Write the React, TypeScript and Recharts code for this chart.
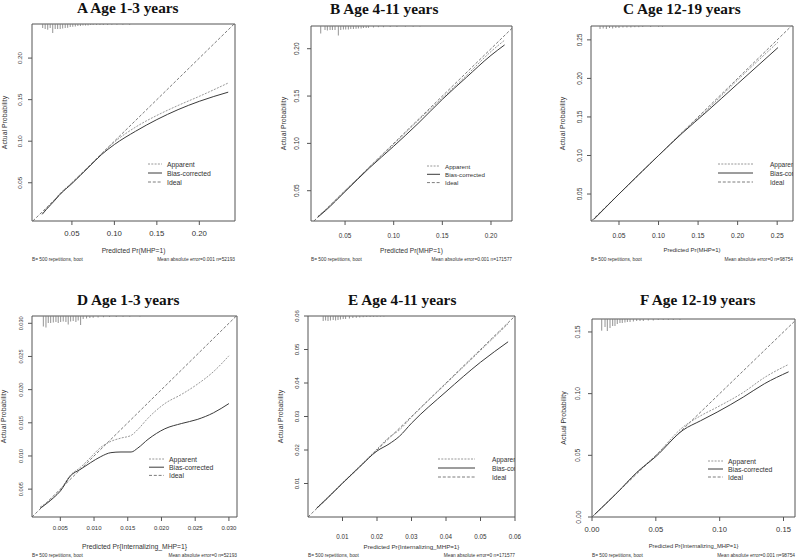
import React from "react";
import {
  ComposedChart,
  Line,
  Scatter,
  XAxis,
  YAxis,
  ReferenceArea,
  ReferenceLine,
} from "recharts";

const aX = [0.015, 0.02, 0.03, 0.035, 0.05, 0.07, 0.085, 0.1, 0.125, 0.15, 0.175, 0.2, 0.234];
const aApparent = [0.013, 0.019, 0.03, 0.036, 0.05, 0.07, 0.085, 0.099, 0.117, 0.131, 0.143, 0.154, 0.17];
const aBias = [0.012, 0.018, 0.029, 0.035, 0.049, 0.069, 0.084, 0.096, 0.112, 0.126, 0.138, 0.148, 0.159];

const bX = [0.022, 0.03, 0.05, 0.075, 0.1, 0.125, 0.15, 0.175, 0.2, 0.214];
const bApparent = [0.023, 0.03, 0.05, 0.075, 0.099, 0.124, 0.148, 0.172, 0.197, 0.209];
const bBias = [0.022, 0.029, 0.049, 0.074, 0.097, 0.121, 0.1465, 0.17, 0.193, 0.204];

const cX = [0.018, 0.05, 0.1, 0.13, 0.16, 0.2, 0.251];
const cApparent = [0.017, 0.05, 0.1, 0.13, 0.158, 0.198, 0.247];
const cBias = [0.017, 0.05, 0.1, 0.129, 0.156, 0.193, 0.24];

const dX = [0.002, 0.004, 0.005, 0.0065, 0.008, 0.0095, 0.011, 0.0125, 0.014, 0.0155, 0.0165, 0.018, 0.0205, 0.023, 0.0253, 0.0277, 0.03];
const dApparent = [0.0023, 0.0038, 0.0049, 0.0071, 0.0083, 0.0098, 0.0113, 0.0122, 0.0127, 0.0131, 0.014, 0.0157, 0.0179, 0.0193, 0.0208, 0.0227, 0.0251];
const dBias = [0.0021, 0.0037, 0.0047, 0.007, 0.008, 0.009, 0.0099, 0.0105, 0.0106, 0.0106, 0.0112, 0.0125, 0.0141, 0.0149, 0.0155, 0.0165, 0.0179];

const eX = [0.0025, 0.005, 0.01, 0.015, 0.02, 0.0235, 0.0265, 0.03, 0.04, 0.05, 0.058];
const eApparent = [0.0027, 0.0052, 0.0102, 0.0152, 0.0203, 0.0238, 0.026, 0.0298, 0.0398, 0.0497, 0.0577];
const eBias = [0.0026, 0.005, 0.0101, 0.015, 0.0197, 0.0218, 0.0241, 0.028, 0.0374, 0.0462, 0.0523];

const fX = [0.002, 0.02, 0.035, 0.05, 0.0714, 0.085, 0.098, 0.1185, 0.135, 0.154];
const fApparent = [0.002, 0.02, 0.036, 0.05, 0.073, 0.082, 0.089, 0.101, 0.113, 0.1237];
const fBias = [0.002, 0.02, 0.036, 0.049, 0.0705, 0.078, 0.085, 0.0972, 0.108, 0.1177];

// rug of predicted values along the top (relative frequency)
const aRugX = [0.0156, 0.0185, 0.0215, 0.0244, 0.0274, 0.0303, 0.0332, 0.0362, 0.0391, 0.0421, 0.045, 0.048, 0.051, 0.054, 0.057, 0.06, 0.063, 0.066, 0.069, 0.072, 0.075, 0.079, 0.083, 0.087, 0.092, 0.097, 0.103, 0.11, 0.118];
const aRugN = [40, 50, 57, 40, 90, 50, 50, 50, 45, 40, 38, 30, 28, 25, 20, 20, 15, 15, 15, 10, 10, 10, 10, 10, 10, 8, 8, 8, 8];

const bRugX = [0.025, 0.0294, 0.0318, 0.0346, 0.037, 0.0397, 0.0431, 0.0456, 0.0483, 0.0507, 0.0534, 0.0559, 0.0586, 0.0613, 0.0637, 0.0665, 0.0689, 0.0717, 0.0741, 0.0792, 0.0843, 0.0895, 0.0964, 0.1033, 0.112, 0.12, 0.127];
const bRugN = [75, 40, 45, 40, 40, 40, 95, 40, 35, 35, 35, 30, 30, 28, 25, 25, 20, 20, 18, 15, 12, 12, 10, 10, 8, 8, 6];

const cRugX = [0.026, 0.03, 0.034, 0.038, 0.042, 0.046, 0.05, 0.055, 0.06, 0.065, 0.07, 0.075, 0.08, 0.09, 0.1, 0.105];
const cRugN = [30, 25, 30, 20, 25, 20, 20, 15, 15, 15, 12, 12, 10, 10, 8, 8];

const dRugX = [0.00248, 0.00287, 0.00321, 0.00357, 0.00396, 0.00435, 0.00469, 0.00505, 0.00543, 0.00583, 0.00617, 0.00653, 0.00691, 0.00731, 0.00765, 0.00801, 0.00839, 0.00889, 0.00938, 0.00987, 0.0106, 0.0114, 0.0123, 0.0133, 0.0143, 0.0153, 0.0168];
const dRugN = [105, 115, 70, 70, 65, 60, 70, 60, 55, 60, 85, 55, 50, 60, 45, 90, 30, 25, 20, 18, 15, 12, 10, 10, 8, 8, 6];

const eRugX = [0.0044, 0.0051, 0.0058, 0.0065, 0.0073, 0.008, 0.0087, 0.0094, 0.0102, 0.0109, 0.012, 0.013, 0.014, 0.015, 0.016, 0.017, 0.018, 0.019, 0.02, 0.021, 0.022];
const eRugN = [50, 45, 50, 45, 40, 45, 40, 35, 30, 30, 25, 20, 18, 15, 12, 10, 10, 8, 8, 6, 6];

const fRugX = [0.0076, 0.0102, 0.012, 0.0141, 0.0162, 0.018, 0.0198, 0.0219, 0.0237, 0.0258, 0.0277, 0.0298, 0.0324, 0.035, 0.0376, 0.0402, 0.0441, 0.048, 0.0519, 0.0558, 0.0598, 0.0637, 0.0689];
const fRugN = [117, 80, 120, 90, 70, 70, 50, 40, 40, 35, 30, 30, 25, 20, 20, 20, 15, 15, 10, 10, 10, 10, 10];

// tick values
const mhpTicks = [0.05, 0.1, 0.15, 0.2];
const cTicks = [0.05, 0.1, 0.15, 0.2, 0.25];
const dTicks = [0.005, 0.01, 0.015, 0.02, 0.025, 0.03];
const eTicks = [0.01, 0.02, 0.03, 0.04, 0.05, 0.06];
const fTicks = [0, 0.05, 0.1, 0.15];

const SANS = "'Liberation Sans', Arial, sans-serif";
const SERIF = "'Liberation Serif', 'Times New Roman', serif";
const INK = "#333";
const FRAME = "#555";

const legendRows = [
  { name: "Apparent", stroke: "#8c8c8c", dash: "2 1.3", width: 0.9 },
  { name: "Bias-corrected", stroke: "#3a3a3a", dash: undefined, width: 1 },
  { name: "Ideal", stroke: "#5a5a5a", dash: "3 1.8", width: 0.8 },
];

const mhpLabel = "Predicted Pr(MHP=1)";
const intLabel = "Predicted Pr{Internalizing_MHP=1}";
const bootNote = "B= 500 repetitions, boot";

const panels = [
  {
    id: "A", title: "A Age 1-3 years", titleX: 77, titleY: 13,
    box: { x0: 32, y0: 24, x1: 235, y1: 221 },
    xDomain: [0.003, 0.242], yDomain: [0.004, 0.241], xTicks: mhpTicks, yTicks: mhpTicks, dec: 2,
    xs: aX, apparent: aApparent, bias: aBias, rugX: aRugX, rugN: aRugN,
    xLabel: mhpLabel, errNote: "Mean absolute error=0.001 n=52193",
    xFs: 7.8, yFs: 6.2, labFs: 6.7, xOff: 12, yOff: 12, yLabOff: 28,
    lg: { x1: 148, x2: 162, tx: 167, y: 164, gap: 9, fs: 6.8 },
  },
  {
    id: "B", title: "B Age 4-11 years", titleX: 330, titleY: 14,
    box: { x0: 311, y0: 26, x1: 512, y1: 221 },
    xDomain: [0.015, 0.2216], yDomain: [0.018, 0.224], xTicks: mhpTicks, yTicks: mhpTicks, dec: 2,
    xs: bX, apparent: bApparent, bias: bBias, rugX: bRugX, rugN: bRugN,
    xLabel: mhpLabel, errNote: "Mean absolute error=0.001 n=171577",
    xFs: 6.4, yFs: 6.5, labFs: 6.6, xOff: 14, yOff: 14, yLabOff: 28,
    lg: { x1: 427, x2: 440, tx: 445, y: 166, gap: 8.3, fs: 6.2 },
  },
  {
    id: "C", title: "C Age 12-19 years", titleX: 623, titleY: 14,
    box: { x0: 591, y0: 26, x1: 793, y1: 221 },
    xDomain: [0.0146, 0.27], yDomain: [0.015, 0.268], xTicks: cTicks, yTicks: cTicks, dec: 2,
    xs: cX, apparent: cApparent, bias: cBias, rugX: cRugX, rugN: cRugN,
    xLabel: mhpLabel, errNote: "Mean absolute error=0 n=98754",
    xFs: 6.7, yFs: 6.5, labFs: 6.0, xOff: 14, yOff: 11, yLabOff: 29,
    lg: { x1: 718, x2: 753, tx: 770, y: 164, gap: 9, fs: 6.5 },
  },
  {
    id: "D", title: "D Age 1-3 years", titleX: 77, titleY: 305,
    box: { x0: 32, y0: 316, x1: 237, y1: 517 },
    xDomain: [0.0008, 0.0312], yDomain: [0.0008, 0.0311], xTicks: dTicks, yTicks: dTicks, dec: 3,
    xs: dX, apparent: dApparent, bias: dBias, rugX: dRugX, rugN: dRugN,
    xLabel: intLabel, errNote: "Mean absolute error=0 n=52193",
    xFs: 6.0, yFs: 5.6, labFs: 6.8, xOff: 11, yOff: 11, yLabOff: 29,
    lg: { x1: 149, x2: 164, tx: 169, y: 459, gap: 8.2, fs: 6.9 },
  },
  {
    id: "E", title: "E Age 4-11 years", titleX: 348, titleY: 305,
    box: { x0: 308, y0: 316, x1: 515, y1: 517 },
    xDomain: [0, 0.06], yDomain: [0, 0.06], xTicks: eTicks, yTicks: eTicks, dec: 2,
    xs: eX, apparent: eApparent, bias: eBias, rugX: eRugX, rugN: eRugN,
    xLabel: intLabel, errNote: "Mean absolute error=0 n=171577",
    xFs: 6.3, yFs: 6.0, labFs: 6.2, xOff: 19, yOff: 11, yLabOff: 28,
    lg: { x1: 438, x2: 475, tx: 492, y: 459, gap: 9, fs: 6.6 },
  },
  {
    id: "F", title: "F Age 12-19 years", titleX: 640, titleY: 305,
    box: { x0: 592, y0: 319, x1: 795, y1: 517 },
    xDomain: [0, 0.159], yDomain: [0, 0.1605], xTicks: fTicks, yTicks: fTicks, dec: 2,
    xs: fX, apparent: fApparent, bias: fBias, rugX: fRugX, rugN: fRugN,
    xLabel: intLabel, errNote: "Mean absolute error=0.001 n=98754",
    xFs: 7.6, yFs: 6.8, labFs: 5.8, xOff: 12, yOff: 14, yLabOff: 29,
    lg: { x1: 708, x2: 723, tx: 728, y: 461, gap: 8, fs: 6.9 },
  },
];

const ML = 34;
const MT = 10;
const MR = 14;
const MB = 44;

const RugMark = (props: any) => {
  const n = props.payload?.n ?? props.n ?? 0;
  return (
    <line x1={props.cx} x2={props.cx} y1={props.cy} y2={props.cy + n * 0.1} stroke="#777" strokeWidth={0.8} />
  );
};

function Panel({ p }: { p: any }) {
  const { box } = p;
  const pw = box.x1 - box.x0;
  const ph = box.y1 - box.y0;
  const W = pw + ML + MR;
  const H = ph + MT + MB;

  const appData = p.xs.map((x: number, i: number) => ({ x, y: p.apparent[i] }));
  const biasData = p.xs.map((x: number, i: number) => ({ x, y: p.bias[i] }));
  const rugData = p.rugX.map((x: number, i: number) => ({ x, y: p.yDomain[1], n: p.rugN[i] }));
  const lo = Math.max(p.xDomain[0], p.yDomain[0]);
  const hi = Math.min(p.xDomain[1], p.yDomain[1]);

  const xTick = (t: any) => (
    <text x={t.x} y={MT + ph + p.xOff} textAnchor="middle" dominantBaseline="central"
      fontSize={p.xFs} fontFamily={SANS} fill={INK}>
      {Number(t.payload.value).toFixed(p.dec)}
    </text>
  );
  const yTick = (t: any) => {
    const tx = ML - p.yOff;
    return (
      <text x={tx} y={t.y} textAnchor="middle" dominantBaseline="central"
        transform={`rotate(-90 ${tx} ${t.y})`} fontSize={p.yFs} fontFamily={SANS} fill={INK}>
        {Number(t.payload.value).toFixed(p.dec)}
      </text>
    );
  };

  const cx = (box.x0 + box.x1) / 2;
  const cy = (box.y0 + box.y1) / 2;
  const clipId = `lg-clip-${p.id}`;

  return (
    <>
      <div style={{ position: "absolute", left: box.x0 - ML, top: box.y0 - MT }}>
        <ComposedChart width={W} height={H} margin={{ top: MT, right: MR, left: 0, bottom: 0 }}>
          <XAxis type="number" dataKey="x" domain={p.xDomain} ticks={p.xTicks} allowDataOverflow
            height={MB} axisLine={false} tickLine={{ stroke: FRAME }} tickSize={4} tick={xTick} interval={0} />
          <YAxis type="number" domain={p.yDomain} ticks={p.yTicks} allowDataOverflow
            width={ML} axisLine={false} tickLine={{ stroke: FRAME }} tickSize={4} tick={yTick} interval={0} />
          <ReferenceArea x1={p.xDomain[0]} x2={p.xDomain[1]} y1={p.yDomain[0]} y2={p.yDomain[1]}
            fill="none" fillOpacity={0} stroke={FRAME} strokeWidth={1} />
          <ReferenceLine segment={[{ x: lo, y: lo }, { x: hi, y: hi }]}
            stroke={legendRows[2].stroke} strokeDasharray={legendRows[2].dash} strokeWidth={legendRows[2].width} />
          <Line data={appData} dataKey="y" type="monotone" dot={false} isAnimationActive={false}
            stroke={legendRows[0].stroke} strokeDasharray={legendRows[0].dash} strokeWidth={legendRows[0].width} />
          <Line data={biasData} dataKey="y" type="monotone" dot={false} isAnimationActive={false}
            stroke={legendRows[1].stroke} strokeWidth={legendRows[1].width} />
          <Scatter data={rugData} dataKey="y" shape={RugMark} isAnimationActive={false} />
        </ComposedChart>
      </div>
      <svg width={796} height={559} style={{ position: "absolute", left: 0, top: 0, pointerEvents: "none" }}>
        <defs>
          <clipPath id={clipId}>
            <rect x={box.x0} y={box.y0} width={pw} height={ph} />
          </clipPath>
        </defs>
        <text x={p.titleX} y={p.titleY} fontFamily={SERIF} fontWeight="bold" fontSize={15.3} fill="#111">
          {p.title}
        </text>
        <text x={cx} y={box.y1 + 29} textAnchor="middle" dominantBaseline="central"
          fontFamily={SANS} fontSize={p.labFs} fill={INK}>
          {p.xLabel}
        </text>
        <text x={box.x0 - p.yLabOff} y={cy} textAnchor="middle" dominantBaseline="central"
          transform={`rotate(-90 ${box.x0 - p.yLabOff} ${cy})`} fontFamily={SANS} fontSize={6.9} fill={INK}>
          Actual Probability
        </text>
        <text x={box.x0} y={box.y1 + 38} dominantBaseline="central" fontFamily={SANS} fontSize={4.8} fill={INK}>
          {bootNote}
        </text>
        <text x={box.x1} y={box.y1 + 38} textAnchor="end" dominantBaseline="central"
          fontFamily={SANS} fontSize={4.8} fill={INK}>
          {p.errNote}
        </text>
        <g clipPath={`url(#${clipId})`}>
          {legendRows.map((r, i) => (
            <g key={r.name}>
              <line x1={p.lg.x1} x2={p.lg.x2} y1={p.lg.y + i * p.lg.gap} y2={p.lg.y + i * p.lg.gap}
                stroke={r.stroke} strokeDasharray={r.dash} strokeWidth={r.width} />
              <text x={p.lg.tx} y={p.lg.y + i * p.lg.gap} dominantBaseline="central"
                fontFamily={SANS} fontSize={p.lg.fs} fill={INK}>
                {r.name}
              </text>
            </g>
          ))}
        </g>
      </svg>
    </>
  );
}

export default function App() {
  return (
    <div style={{ position: "fixed", left: 0, top: 0, width: 796, height: 559, overflow: "hidden", background: "#fff" }}>
      {panels.map((p) => (
        <Panel key={p.id} p={p} />
      ))}
    </div>
  );
}
